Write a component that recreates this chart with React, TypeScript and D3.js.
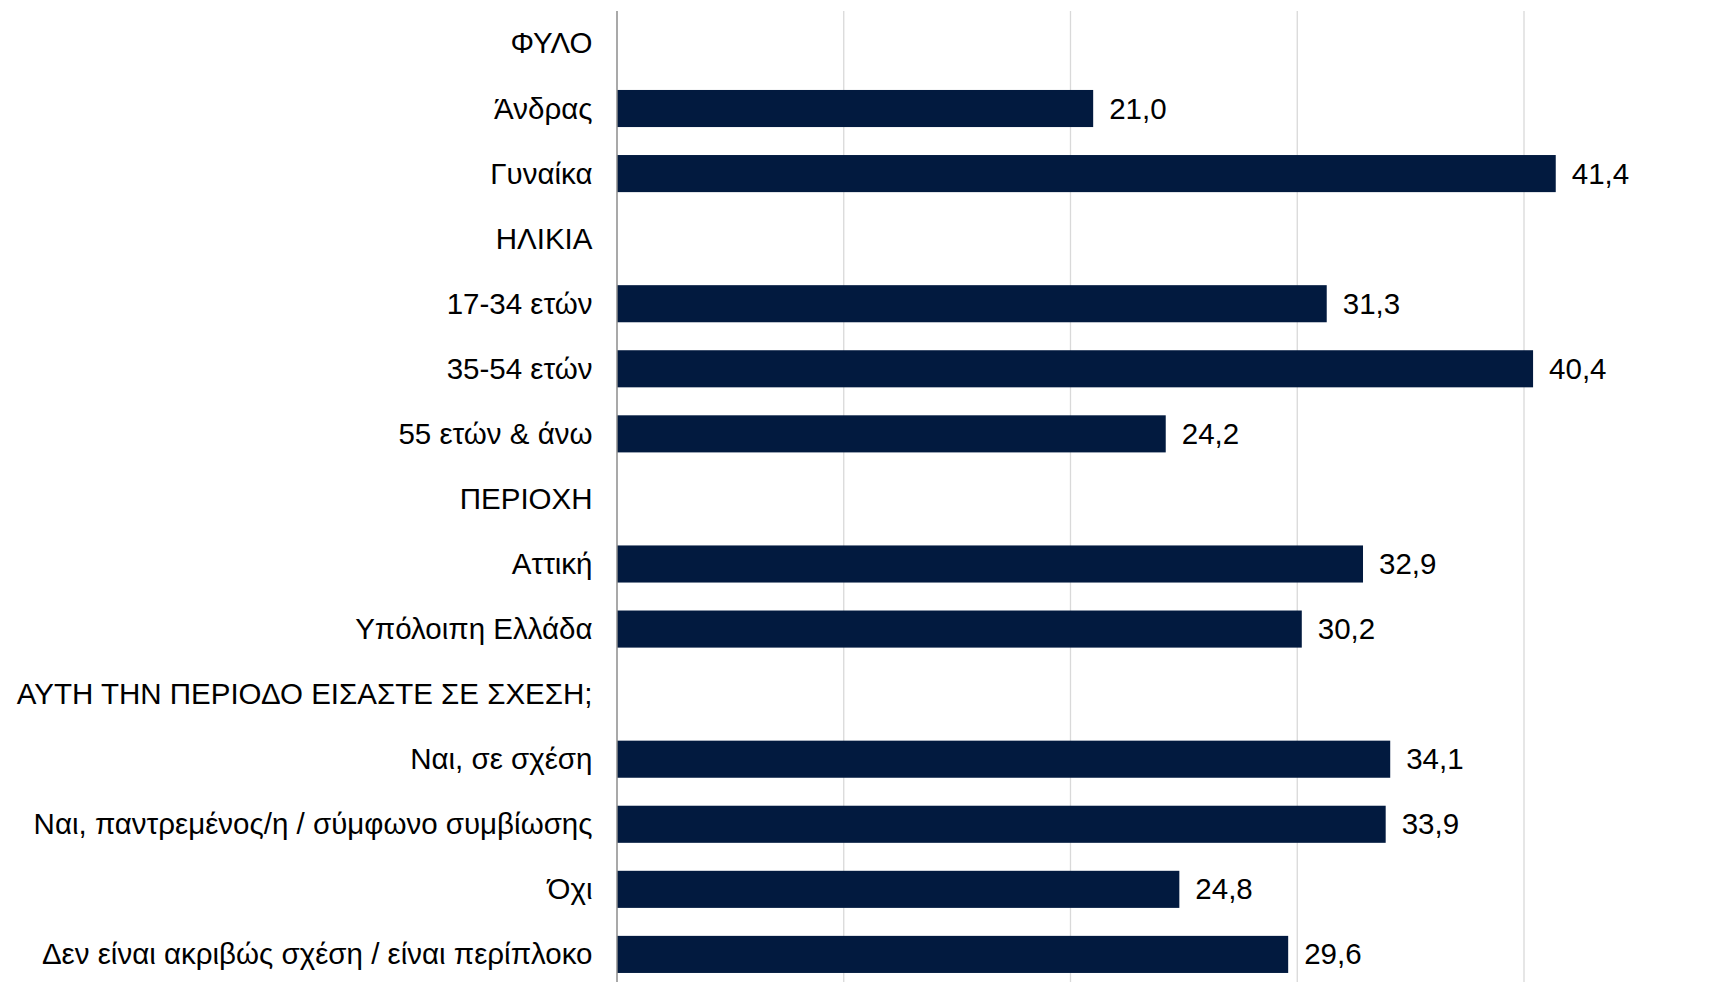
import React from "react";
import * as d3 from "d3";

const categories = [
  "ΦΥΛΟ",
  "Άνδρας",
  "Γυναίκα",
  "ΗΛΙΚΙΑ",
  "17-34 ετών",
  "35-54 ετών",
  "55 ετών & άνω",
  "ΠΕΡΙΟΧΗ",
  "Αττική",
  "Υπόλοιπη Ελλάδα",
  "ΑΥΤΗ ΤΗΝ ΠΕΡΙΟΔΟ ΕΙΣΑΣΤΕ ΣΕ ΣΧΕΣΗ;",
  "Ναι, σε σχέση",
  "Ναι, παντρεμένος/η / σύμφωνο συμβίωσης",
  "Όχι",
  "Δεν είναι ακριβώς σχέση / είναι περίπλοκο",
];

const values: (number | null)[] = [
  null, 21.0, 41.4, null, 31.3, 40.4, 24.2, null, 32.9, 30.2, null, 34.1, 33.9, 24.8, 29.6,
];

const gridTicks = [0, 10, 20, 30, 40];

const W = 1736;
const H = 982;
const left = 617;
const top = 10.9;
const bandStep = 65.07;
const pxPerUnit = 22.675;

export default function App() {
  const x = d3.scaleLinear().domain([0, 50]).range([left, left + 50 * pxPerUnit]);
  const y = d3
    .scaleBand<string>()
    .domain(categories)
    .range([top, top + bandStep * categories.length])
    .paddingInner(0.43)
    .paddingOuter(0.215);
  const fmt = (v: number) => d3.format(".1f")(v).replace(".", ",");
  const font = "'Liberation Sans', Arial, sans-serif";
  return (
    <svg
      width={W}
      height={H}
      style={{ position: "absolute", left: 0, top: 0, background: "#fff" }}
    >
      {gridTicks.slice(1).map((t) => (
        <line key={t} x1={x(t)} x2={x(t)} y1={11} y2={H + 10} stroke="#d9d9d9" strokeWidth={1.3} />
      ))}
      {categories.map((c, i) => {
        const v = values[i];
        const cy = (y(c) as number) + y.bandwidth() / 2 - 0.5;
        return (
          <g key={c}>
            <text
              x={592.5}
              y={cy}
              textAnchor="end"
              dominantBaseline="central"
              fontFamily={font}
              fontSize={29.5}
              fill="#000"
            >
              {c}
            </text>
            {v !== null && (
              <>
                <rect
                  x={x(0)}
                  y={y(c)}
                  width={x(v) - x(0)}
                  height={y.bandwidth()}
                  fill="#021a3f"
                />
                <text
                  x={x(v) + 16}
                  y={cy}
                  dominantBaseline="central"
                  fontFamily={font}
                  fontSize={29.5}
                  fill="#000"
                >
                  {fmt(v)}
                </text>
              </>
            )}
          </g>
        );
      })}
      <line x1={x(0)} x2={x(0)} y1={11} y2={H + 10} stroke="#8c8c8c" strokeWidth={1.5} />
    </svg>
  );
}
